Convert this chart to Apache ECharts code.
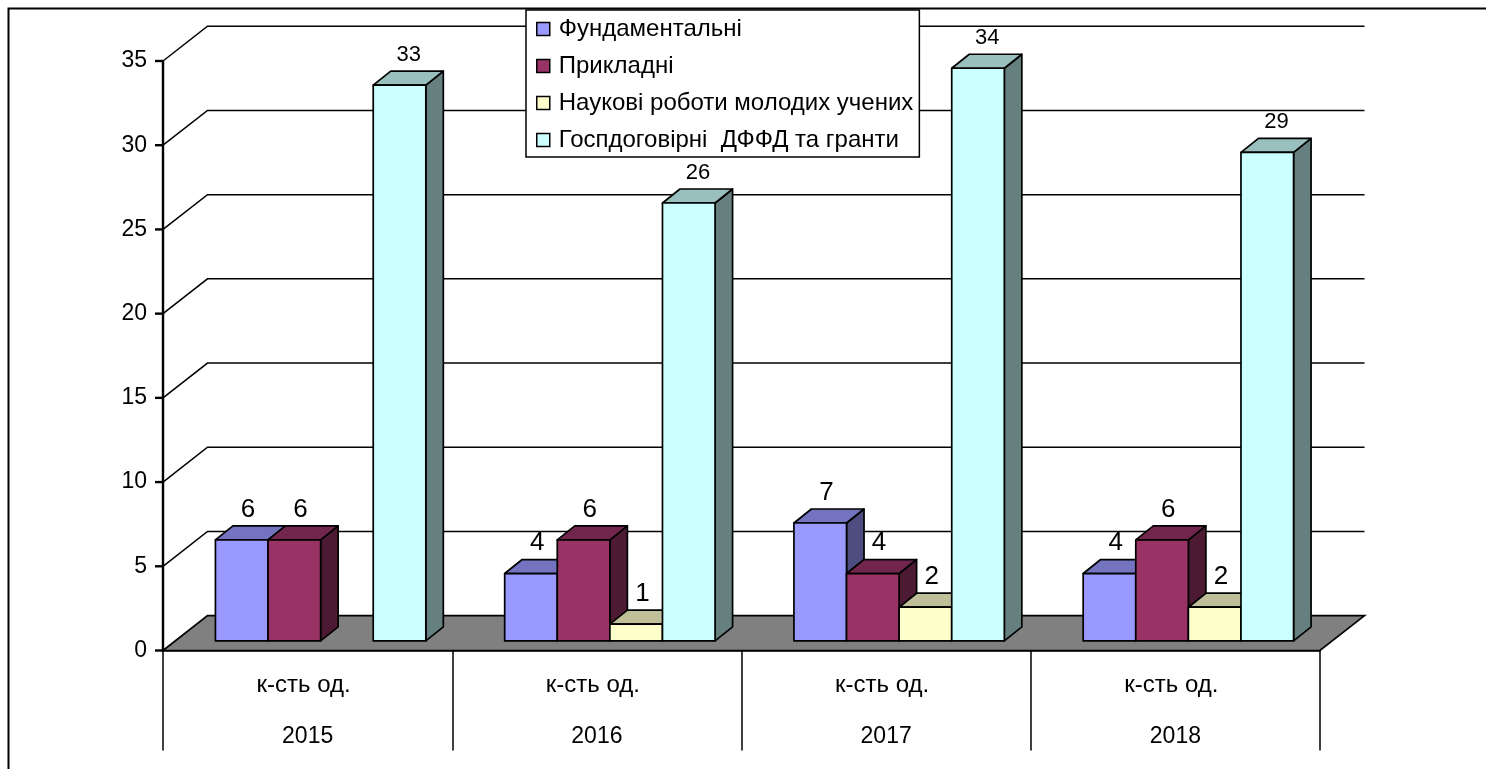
<!DOCTYPE html>
<html><head><meta charset="utf-8">
<style>html,body{margin:0;padding:0;background:#fff}#c{width:1486px;height:769px}</style>
<script src="https://cdn.jsdelivr.net/npm/echarts@6/dist/echarts.min.js"></script>
</head><body><div id="c"></div>
<script>
const years = ['2015','2016','2017','2018'];
const measures = ['к-сть од.','к-сть од.','к-сть од.','к-сть од.'];
const yTicks = [0,5,10,15,20,25,30,35];
const fundamental = [6,4,7,4];
const applied = [6,6,4,6];
const young = [null,1,2,2];
const contract = [33,26,34,29];
const names = ['Фундаментальні','Прикладні','Наукові роботи молодих учених','Госпдоговірні  ДФФД та гранти'];

const FONT = '"Liberation Sans", Arial, sans-serif';
const palette = [
  {front:'#9999FF', top:'#7373BF', side:'#4D4D80'},
  {front:'#993366', top:'#73264D', side:'#4D1A33'},
  {front:'#FFFFCC', top:'#BFBF99', side:'#808066'},
  {front:'#CCFFFF', top:'#99BFBF', side:'#668080'}
];
const labelSizes = [26,26,26,22];
const labelShift = [-2.5,-2.5,-2.5,0.5];
const labelLift = [16.5,16.5,16.5,16.5];
const WALL_DX = 44.5, WALL_DY = -34.8, TICK = 8;
const BAR_W = 52.6, FRONT_DX = 13, FRONT_DY = -9.6, DEPTH_DX = 17.5, DEPTH_DY = -14;
const edge = {stroke:'#000', lineWidth:1.7, lineJoin:'round'};
const thin = ()=>({fill:'none',stroke:'#000',lineWidth:1.5});
const axisLn = ()=>({stroke:'#000',lineWidth:2.4});

function barRenderer(si){
  return function(params, api){
    const i = api.value(0), v = api.value(1);
    const c0 = api.coord([i,0]), c1 = api.coord([i,v]);
    const x = c0[0] + FRONT_DX + (si-2)*BAR_W, yb = c0[1] + FRONT_DY, yt = c1[1] + FRONT_DY;
    const p = palette[si], x2 = x+BAR_W;
    const poly = (pts,fill)=>({type:'polygon',shape:{points:pts},style:Object.assign({fill},edge)});
    return {type:'group',children:[
      poly([[x2,yb],[x2+DEPTH_DX,yb+DEPTH_DY],[x2+DEPTH_DX,yt+DEPTH_DY],[x2,yt]],p.side),
      poly([[x,yt],[x+DEPTH_DX,yt+DEPTH_DY],[x2+DEPTH_DX,yt+DEPTH_DY],[x2,yt]],p.top),
      poly([[x,yb],[x2,yb],[x2,yt],[x,yt]],p.front),
      {type:'text',style:{text:String(v),x:x+BAR_W/2+DEPTH_DX/2+labelShift[si],y:yt+DEPTH_DY-labelLift[si],align:'center',verticalAlign:'middle',
        font:labelSizes[si]+'px '+FONT,fill:'#000'}}
    ]};
  };
}
function wallRenderer(params, api){
  const v = api.value(1), c = api.coord([0,v]), cs = params.coordSys;
  const x0 = cs.x, x1 = x0+WALL_DX, y1 = c[1]+WALL_DY, xe = x0+cs.width+WALL_DX;
  const children = [{type:'line',shape:{x1:x0-TICK,y1:c[1],x2:x0,y2:c[1]},style:axisLn()}];
  if (v === 0) {
    children.push({type:'polygon',shape:{points:[[x0,c[1]],[x1,y1],[xe,y1],[x0+cs.width,c[1]]]},
      style:{fill:'#808080',stroke:'#000',lineWidth:1.7}});
  } else {
    children.push({type:'polyline',shape:{points:[[x0,c[1]],[x1,y1],[xe,y1]]},style:thin()});
  }
  if (v === yTicks[yTicks.length-1]) {
    children.push({type:'line',shape:{x1:x0,y1:c[1],x2:x0,y2:api.coord([0,0])[1]},style:axisLn()});
  }
  return {type:'group',children};
}
const seriesValues = [fundamental,applied,young,contract];
const series = [{type:'custom',name:'wall',silent:true,z:1,renderItem:wallRenderer,
  data:yTicks.slice().reverse().map(v=>[0,v])}];
seriesValues.forEach((vals,si)=>{
  series.push({type:'custom',name:names[si],z:2+si,renderItem:barRenderer(si),
    itemStyle:{color:palette[si].front},
    data:vals.map((v,i)=>[i,v]).filter(d=>d[1]!==null)});
});
const chart = echarts.init(document.getElementById('c'),null,{width:1486,height:769});
chart.setOption({
  animation:false,
  backgroundColor:'#fff',
  textStyle:{fontFamily:FONT},
  grid:{left:163,right:166,top:61,bottom:118.5,containLabel:false},
  xAxis:[
    {type:'category',data:measures,position:'bottom',boundaryGap:true,
     axisLine:{onZero:false,lineStyle:{color:'#000',width:1.7}},
     axisTick:{show:true,length:100,lineStyle:{color:'#000',width:1.5}},
     axisLabel:{color:'#000',fontSize:24,margin:23,interval:0,padding:[0,8,0,0],fontFamily:FONT}},
    {type:'category',data:years,position:'bottom',boundaryGap:true,
     axisLine:{show:false,onZero:false},axisTick:{show:false},
     axisLabel:{color:'#000',fontSize:23,margin:75,interval:0,fontFamily:FONT}}
  ],
  yAxis:{type:'value',min:0,max:35,interval:5,position:'left',
    axisLine:{show:false},
    axisTick:{show:false},
    splitLine:{show:false},
    axisLabel:{color:'#000',fontSize:23,margin:16,fontFamily:FONT}},
  legend:{orient:'vertical',left:526,top:10,padding:[7,6,5,10],itemGap:13,itemWidth:13,itemHeight:13,
    icon:'rect',backgroundColor:'#fff',borderColor:'#000',borderWidth:1.5,
    selectedMode:false,itemStyle:{borderColor:'#000',borderWidth:1.5},
    textStyle:{color:'#000',fontSize:24,fontFamily:FONT,padding:[0,0,0,4]},
    data:names},
  graphic:[{type:'polyline',silent:true,z:100,shape:{points:[[8.5,800],[8.5,8.5],[1500,8.5]]},
    style:{fill:'none',stroke:'#000',lineWidth:2}}],
  series
});
</script></body></html>
